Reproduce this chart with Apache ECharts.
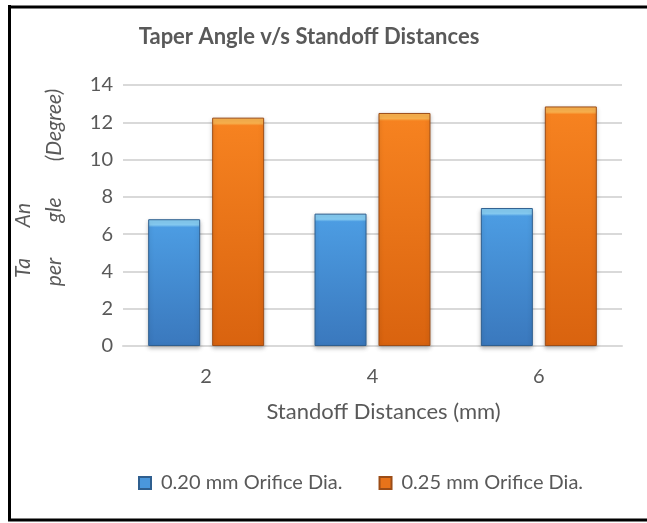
<!DOCTYPE html>
<html>
<head>
<meta charset="utf-8">
<script src="https://cdn.jsdelivr.net/npm/echarts@6/dist/echarts.min.js"></script>
<style>
  html, body { margin: 0; padding: 0; background: #ffffff; }
  #chart { width: 647px; height: 523px; }
</style>
</head>
<body>
<div id="chart"></div>
<script>
// Standoff distances (mm) on the category axis
const standoffDistances = ['2', '4', '6'];
// Taper angle (degree) for each orifice diameter
const orifice020 = [6.8, 7.1, 7.4];
const orifice025 = [12.25, 12.5, 12.85];
const seriesNames = ['0.20 mm Orifice Dia.', '0.25 mm Orifice Dia.'];
// Value axis range
const yMin = 0, yMax = 14, yStep = 2;

const textGray = '#595959';
const fontFamily = 'Lato, "Open Sans", sans-serif';

// plot area geometry (pixels)
const gridTop = 85, gridBottom = 177, chartHeight = 523;
const plotHeight = chartHeight - gridTop - gridBottom;
const capPx = 8; // height of the light bevel cap on each bar

// Bevelled bar fill: light cap at the top, then a darkening body
function bevelFill(value, cap, top, bottom) {
  const barPx = (value - yMin) / (yMax - yMin) * plotHeight;
  const s = Math.min(0.3, capPx / barPx);
  return {
    type: 'linear', x: 0, y: 0, x2: 0, y2: 1,
    colorStops: [
      { offset: 0, color: cap },
      { offset: s * 0.7, color: cap },
      { offset: s, color: top },
      { offset: 1, color: bottom }
    ]
  };
}

function bevelData(values, cap, top, bottom) {
  return values.map(v => ({ value: v, itemStyle: { color: bevelFill(v, cap, top, bottom) } }));
}

const chart = echarts.init(document.getElementById('chart'), null, { renderer: 'canvas' });

const axisTitleFont = 'italic 21px ' + fontFamily;

chart.setOption({
  backgroundColor: '#ffffff',
  animation: false,
  title: {
    text: 'Taper Angle v/s Standoff Distances',
    left: 304,
    textAlign: 'center',
    top: 21,
    textStyle: { color: textGray, fontFamily, fontWeight: 'bold', fontSize: 22 }
  },
  grid: { left: 123, right: 25, top: gridTop, bottom: gridBottom, containLabel: false },
  legend: {
    data: seriesNames,
    left: 133,
    top: 468,
    itemWidth: 12,
    itemHeight: 12,
    itemGap: 36,
    icon: 'rect',
    textStyle: { color: textGray, fontFamily, fontSize: 20, padding: [0, 0, 0, 5] }
  },
  xAxis: {
    type: 'category',
    data: standoffDistances,
    name: 'Standoff Distances (mm)',
    nameLocation: 'middle',
    nameGap: 55,
    nameTextStyle: { color: textGray, fontFamily, fontSize: 22, padding: [0, 0, 0, 22] },
    axisLine: { show: true, lineStyle: { color: '#d9d9d9', width: 2 } },
    axisTick: { show: false },
    axisLabel: { color: textGray, fontFamily, fontSize: 20, margin: 21 }
  },
  yAxis: {
    type: 'value',
    min: yMin,
    max: yMax,
    interval: yStep,
    axisLine: { show: false },
    axisTick: { show: false },
    axisLabel: { color: textGray, fontFamily, fontSize: 20, margin: 10 },
    splitLine: { lineStyle: { color: '#d9d9d9', width: 2 } }
  },
  series: [
    {
      name: seriesNames[0],
      type: 'bar',
      data: bevelData(orifice020, '#86cdf4', '#4c9ce2', '#3a78bd'),
      barWidth: 52,
      barGap: '23%',
      itemStyle: {
        color: '#4a97dc',
        borderColor: '#2f5f8f',
        borderWidth: 1,
        shadowBlur: 4,
        shadowColor: 'rgba(0,0,0,0.25)',
        shadowOffsetY: 2
      }
    },
    {
      name: seriesNames[1],
      type: 'bar',
      data: bevelData(orifice025, '#fbb24e', '#f68220', '#d9630f'),
      barWidth: 52,
      itemStyle: {
        color: '#e8731a',
        borderColor: '#9c4d17',
        borderWidth: 1,
        shadowBlur: 4,
        shadowColor: 'rgba(0,0,0,0.25)',
        shadowOffsetY: 2
      }
    }
  ],
  graphic: [
    // frame around the chart
    { type: 'line', shape: { x1: 8, y1: 7, x2: 647, y2: 7 }, style: { stroke: '#000', lineWidth: 3 } },
    { type: 'line', shape: { x1: 9.5, y1: 5, x2: 9.5, y2: 521 }, style: { stroke: '#000', lineWidth: 3 } },
    { type: 'line', shape: { x1: 8, y1: 520, x2: 647, y2: 520 }, style: { stroke: '#000', lineWidth: 3 } },
    // value axis title, wrapped over two rotated columns
    { type: 'text', x: 23, y: 268, rotation: Math.PI / 2,
      style: { text: 'Ta', fill: textGray, font: axisTitleFont, textAlign: 'center', textVerticalAlign: 'middle' } },
    { type: 'text', x: 23, y: 215, rotation: Math.PI / 2,
      style: { text: 'An', fill: textGray, font: axisTitleFont, textAlign: 'center', textVerticalAlign: 'middle' } },
    { type: 'text', x: 54, y: 272, rotation: Math.PI / 2,
      style: { text: 'per', fill: textGray, font: axisTitleFont, textAlign: 'center', textVerticalAlign: 'middle' } },
    { type: 'text', x: 54, y: 210, rotation: Math.PI / 2,
      style: { text: 'gle', fill: textGray, font: axisTitleFont, textAlign: 'center', textVerticalAlign: 'middle' } },
    { type: 'text', x: 54, y: 125, rotation: Math.PI / 2,
      style: { text: '(Degree)', fill: textGray, font: axisTitleFont, textAlign: 'center', textVerticalAlign: 'middle' } }
  ]
});
</script>
</body>
</html>
